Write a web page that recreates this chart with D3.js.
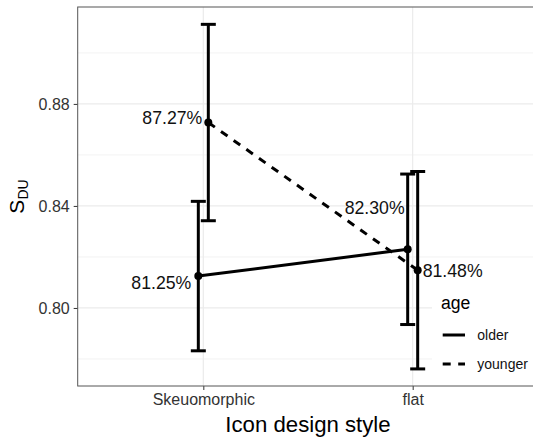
<!DOCTYPE html>
<html lang="en">
<head>
    <meta charset="UTF-8">
    <title>S_DU by icon design style and age</title>
    <script src="https://d3js.org/d3.v7.min.js"></script>
    <style>
        body {
            margin: 0;
            background: #fff;
            font-family: "Liberation Sans", Arial, sans-serif;
        }
        .grid line {
            stroke: #ebebeb;
        }
        .axis text {
            fill: #333;
            font-size: 16px;
        }
        .axis line {
            stroke: #333;
        }
    </style>
</head>
<body>
    <div id="chart"></div>

    <script>
        // values
        const styles = ["Skeuomorphic", "flat"];
        const ages = ["older", "younger"];
        const olderMean = [0.8125, 0.8230];
        const olderErr = [0.0293, 0.0295];
        const youngerMean = [0.8727, 0.8148];
        const youngerErr = [0.0385, 0.0387];
        const majorTicks = [0.80, 0.84, 0.88];
        const minorTicks = [0.78, 0.82, 0.86, 0.90];

        const width = 533,
            height = 437,
            panelLeft = 77.7,
            panelTop = 7,
            panelBottom = 386,
            panelRight = 538.3, // panel runs past the cropped edge
            dodge = 5,
            lw = 3;

        const x = d3.scalePoint()
            .domain(styles)
            .range([panelLeft, panelRight])
            .padding(0.6);

        const y = d3.scaleLinear()
            .domain([0.7694, 0.918])
            .range([panelBottom, panelTop]);

        const series = [
            {age: "older", mean: olderMean, err: olderErr, shift: -dodge, dash: null},
            {age: "younger", mean: youngerMean, err: youngerErr, shift: dodge, dash: "8,7.5"}
        ];

        // label placement per point: [dx, dy, anchor]
        const labelPos = {
            older: [[-7, 7, "end"], [-3, -41, "end"]],
            younger: [[-6, -5, "end"], [5, 1, "start"]]
        };

        const svg = d3.select("#chart").append("svg")
            .attr("width", width)
            .attr("height", height);

        // grid
        const grid = svg.append("g").attr("class", "grid");
        grid.selectAll(".minor")
            .data(minorTicks)
            .enter().append("line")
            .attr("x1", panelLeft).attr("x2", panelRight)
            .attr("y1", d => y(d)).attr("y2", d => y(d))
            .attr("stroke-width", 0.6);
        grid.selectAll(".major")
            .data(majorTicks)
            .enter().append("line")
            .attr("x1", panelLeft).attr("x2", panelRight)
            .attr("y1", d => y(d)).attr("y2", d => y(d))
            .attr("stroke-width", 1.2);
        grid.selectAll(".vert")
            .data(styles)
            .enter().append("line")
            .attr("x1", d => x(d)).attr("x2", d => x(d))
            .attr("y1", panelTop).attr("y2", panelBottom)
            .attr("stroke-width", 1.2);

        // axes
        const yAxis = svg.append("g")
            .attr("class", "axis")
            .attr("transform", "translate(" + panelLeft + ",0)")
            .call(d3.axisLeft(y).tickValues(majorTicks).tickFormat(d3.format(".2f")).tickSize(4).tickPadding(4));
        yAxis.select(".domain").remove();
        yAxis.selectAll("text").attr("fill", "#333");

        const xAxis = svg.append("g")
            .attr("class", "axis")
            .attr("transform", "translate(0," + panelBottom + ")")
            .call(d3.axisBottom(x).tickSize(4).tickPadding(4));
        xAxis.select(".domain").remove();
        xAxis.selectAll("text").attr("fill", "#333");

        svg.append("rect")
            .attr("x", panelLeft).attr("y", panelTop)
            .attr("width", panelRight - panelLeft).attr("height", panelBottom - panelTop)
            .attr("fill", "none")
            .attr("stroke", "#555")
            .attr("stroke-width", 1);

        // error bars
        series.forEach(s => {
            const g = svg.append("g");
            styles.forEach((st, i) => {
                const cx = x(st) + s.shift;
                const lo = y(s.mean[i] - s.err[i]), hi = y(s.mean[i] + s.err[i]);
                g.append("line")
                    .attr("x1", cx).attr("x2", cx).attr("y1", lo).attr("y2", hi)
                    .attr("stroke", "#000").attr("stroke-width", lw);
                [lo, hi].forEach(v => {
                    g.append("line")
                        .attr("x1", cx - 7.5).attr("x2", cx + 7.5).attr("y1", v).attr("y2", v)
                        .attr("stroke", "#000").attr("stroke-width", lw);
                });
            });
        });

        // mean lines
        const line = d3.line()
            .x(d => d[0])
            .y(d => d[1]);

        series.forEach(s => {
            const pts = styles.map((st, i) => [x(st) + s.shift, y(s.mean[i])]);
            svg.append("path")
                .attr("d", line(pts))
                .attr("fill", "none")
                .attr("stroke", "#000")
                .attr("stroke-width", lw)
                .attr("stroke-dasharray", s.dash);
        });

        // points and labels
        series.forEach(s => {
            styles.forEach((st, i) => {
                const cx = x(st) + s.shift, cy = y(s.mean[i]);
                svg.append("circle")
                    .attr("cx", cx).attr("cy", cy).attr("r", 4)
                    .attr("fill", "#000");
                const p = labelPos[s.age][i];
                svg.append("text")
                    .attr("x", cx + p[0])
                    .attr("y", cy + p[1])
                    .attr("dy", "0.35em")
                    .attr("text-anchor", p[2])
                    .attr("font-size", "17.7px")
                    .attr("fill", "#111")
                    .text((s.mean[i] * 100).toFixed(2) + "%");
            });
        });

        // axis titles
        svg.append("text")
            .attr("x", (panelLeft + panelRight) / 2)
            .attr("y", 432)
            .attr("text-anchor", "middle")
            .attr("font-size", "22.2px")
            .attr("fill", "#000")
            .text("Icon design style");

        const yt = svg.append("text")
            .attr("transform", "translate(24," + ((panelTop + panelBottom) / 2) + ") rotate(-90)")
            .attr("text-anchor", "middle")
            .attr("font-size", "21px")
            .attr("fill", "#000");
        yt.append("tspan").text("S");
        yt.append("tspan").attr("font-size", "14px").attr("dy", "4").text("DU");

        // legend
        const legend = svg.append("g")
            .attr("transform", "translate(432,283)");
        legend.append("rect")
            .attr("width", 110).attr("height", 100)
            .attr("fill", "#fff");
        legend.append("text")
            .attr("x", 9).attr("y", 26)
            .attr("font-size", "17.6px")
            .attr("fill", "#000")
            .text("age");
        const item = legend.selectAll(".item")
            .data(ages)
            .enter().append("g")
            .attr("transform", (d, i) => "translate(0," + (52 + i * 29) + ")");
        item.append("line")
            .attr("x1", 10.7).attr("x2", 33)
            .attr("stroke", "#000")
            .attr("stroke-width", lw)
            .attr("stroke-dasharray", (d, i) => series[i].dash);
        item.append("text")
            .attr("x", 45.3)
            .attr("dy", "0.35em")
            .attr("font-size", "14px")
            .attr("fill", "#111")
            .text(d => d);
    </script>
</body>
</html>
